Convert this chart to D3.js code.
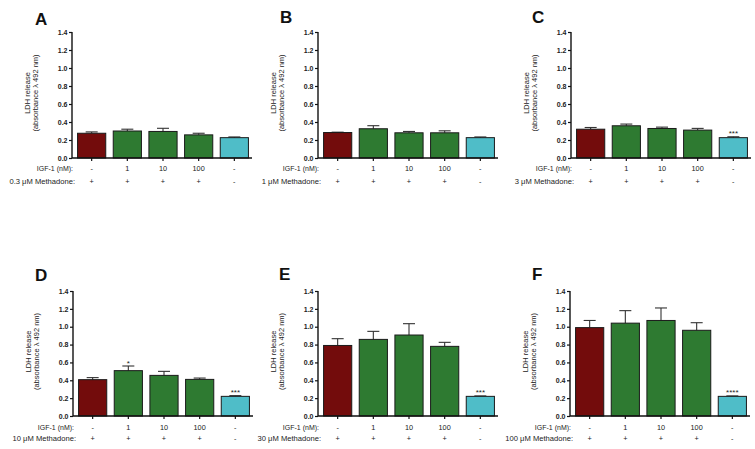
<!DOCTYPE html>
<html>
<head>
<meta charset="utf-8">
<script src="https://cdn.jsdelivr.net/npm/d3@7"></script>
<style>
  html, body { margin: 0; padding: 0; background: #fff; }
  svg { display: block; }
  text { font-family: "Liberation Sans", Arial, sans-serif; }
</style>
</head>
<body>
<script>
// ---------------- data ----------------
const panelLetters = ["A", "B", "C", "D", "E", "F"];
const methadoneLabels = ["0.3 μM Methadone:", "1 μM Methadone:", "3 μM Methadone:",
                         "10 μM Methadone:", "30 μM Methadone:", "100 μM Methadone:"];
const groups = ["g1", "g2", "g3", "g4", "g5"];
const igfLabels = ["-", "1", "10", "100", "-"];
const methadoneSigns = ["+", "+", "+", "+", "-"];
const yTicks = [0, 0.2, 0.4, 0.6, 0.8, 1.0, 1.2, 1.4];

const meanA = [0.275, 0.300, 0.295, 0.257, 0.226];
const semA  = [0.015, 0.020, 0.035, 0.018, 0.008];
const meanB = [0.283, 0.325, 0.280, 0.280, 0.226];
const semB  = [0.004, 0.034, 0.015, 0.022, 0.008];
const meanC = [0.320, 0.358, 0.328, 0.310, 0.226];
const semC  = [0.019, 0.019, 0.015, 0.019, 0.010];
const meanD = [0.407, 0.508, 0.455, 0.410, 0.220];
const semD  = [0.023, 0.052, 0.045, 0.015, 0.008];
const meanE = [0.790, 0.858, 0.907, 0.780, 0.220];
const semE  = [0.076, 0.090, 0.127, 0.045, 0.005];
const meanF = [0.990, 1.040, 1.070, 0.960, 0.220];
const semF  = [0.080, 0.140, 0.140, 0.085, 0.005];

const sigA = ["", "", "", "", ""];
const sigB = ["", "", "", "", ""];
const sigC = ["", "", "", "", "***"];
const sigD = ["", "*", "", "", "***"];
const sigE = ["", "", "", "", "***"];
const sigF = ["", "", "", "", "****"];

const means = [meanA, meanB, meanC, meanD, meanE, meanF];
const sems  = [semA, semB, semC, semD, semE, semF];
const sigs  = [sigA, sigB, sigC, sigD, sigE, sigF];

// ---------------- layout ----------------
const W = 755, H = 449;
const axisX = [72, 318, 571, 73, 318, 570];
const axisY0 = [158, 158, 158, 416, 416, 416];
const axisYTop = [32, 32, 32, 291, 291, 291];
const letterPos = [[35, 25], [280, 23], [532, 23], [35, 281], [279, 280], [532, 280]];
const rowOff = [[10, 23], [10, 23], [10, 23], [11, 22.5], [11, 22.5], [11, 22.5]];
const barColors = ["#730c0c", "#2e7a31", "#2e7a31", "#2e7a31", "#4fbdc8"];

const svg = d3.select("body").append("svg")
  .attr("width", W).attr("height", H);

panelLetters.forEach((letter, p) => {
  const ax = axisX[p], y0 = axisY0[p], yt = axisYTop[p];
  const g = svg.append("g");

  const y = d3.scaleLinear().domain([0, 1.4]).range([y0, yt]);
  const x = d3.scaleBand().domain(groups).range([ax + 2, ax + 180]).paddingInner(0.21).paddingOuter(0.1);

  // panel letter
  g.append("text").attr("x", letterPos[p][0]).attr("y", letterPos[p][1])
    .attr("font-size", 17).attr("font-weight", "bold").attr("fill", "#111")
    .text(letter);

  const data = groups.map((k, i) => ({ k, i, m: means[p][i], e: sems[p][i], s: sigs[p][i] }));

  // error bars (upper only)
  const eb = g.append("g").attr("stroke", "#333").attr("stroke-width", 1.1);
  data.forEach(d => {
    const cx = x(d.k) + x.bandwidth() / 2;
    eb.append("line").attr("x1", cx).attr("x2", cx)
      .attr("y1", y(d.m)).attr("y2", y(d.m + d.e));
    eb.append("line").attr("x1", cx - 6).attr("x2", cx + 6)
      .attr("y1", y(d.m + d.e)).attr("y2", y(d.m + d.e));
  });

  // bars
  g.append("g").selectAll("rect").data(data).join("rect")
    .attr("x", d => x(d.k))
    .attr("y", d => y(d.m))
    .attr("width", x.bandwidth())
    .attr("height", d => y(0) - y(d.m))
    .attr("fill", d => barColors[d.i])
    .attr("stroke", "#1a1a1a").attr("stroke-width", 1);

  // significance
  g.append("g").selectAll("text").data(data.filter(d => d.s)).join("text")
    .attr("x", d => x(d.k) + x.bandwidth() / 2)
    .attr("y", d => y(d.m + d.e) - 0.5)
    .attr("text-anchor", "middle").attr("font-size", 8).attr("fill", "#222")
    .text(d => d.s);

  // y axis
  const yAxis = d3.axisLeft(y).tickValues(yTicks).tickFormat(d3.format(".1f"))
    .tickSize(3).tickPadding(1.5);
  const ya = g.append("g").attr("transform", `translate(${ax},0)`).call(yAxis);
  ya.select(".domain").attr("stroke", "#111").attr("stroke-width", 1.4)
    .attr("d", `M0,${y(1.4)}V${y(0)}`);
  ya.selectAll(".tick line").attr("stroke", "#111").attr("stroke-width", 1.2);
  ya.selectAll(".tick text").attr("font-size", 7).attr("font-weight", "bold")
    .attr("fill", "#222").attr("font-family", "Liberation Sans, Arial, sans-serif");

  // x axis
  const xAxis = d3.axisBottom(x).tickSize(3).tickFormat("");
  const xa = g.append("g").attr("transform", `translate(0,${y0})`).call(xAxis);
  xa.select(".domain").attr("stroke", "#111").attr("stroke-width", 1.4)
    .attr("d", `M${ax},0H${ax + 180}`);
  xa.selectAll(".tick line").attr("stroke", "#111").attr("stroke-width", 1.2);

  // y title
  const yc = (y0 + yt) / 2 - 2;
  g.append("text")
    .attr("transform", `translate(${ax - 42},${yc}) rotate(-90)`)
    .attr("text-anchor", "middle").attr("font-size", 7.5).attr("fill", "#222")
    .text("LDH release");
  g.append("text")
    .attr("transform", `translate(${ax - 34.5},${yc}) rotate(-90)`)
    .attr("text-anchor", "middle").attr("font-size", 7.5).attr("fill", "#222")
    .text("(absorbance λ 492 nm)");

  // row labels
  const r1 = y0 + rowOff[p][0] + 2.5, r2 = y0 + rowOff[p][1] + 2.5;
  g.append("text").attr("x", ax + 1).attr("y", r1).attr("text-anchor", "end")
    .attr("font-size", 7).attr("fill", "#222").text("IGF-1 (nM):");
  g.append("text").attr("x", ax + 3).attr("y", r2).attr("text-anchor", "end")
    .attr("font-size", 7.6).attr("fill", "#222").text(methadoneLabels[p]);
  g.append("g").selectAll("text").data(data).join("text")
    .attr("x", d => x(d.k) + x.bandwidth() / 2).attr("y", r1)
    .attr("text-anchor", "middle").attr("font-size", 7.3).attr("fill", "#222")
    .text(d => igfLabels[d.i]);
  g.append("g").selectAll("text").data(data).join("text")
    .attr("x", d => x(d.k) + x.bandwidth() / 2).attr("y", r2)
    .attr("text-anchor", "middle").attr("font-size", 7.3).attr("fill", "#222")
    .text(d => methadoneSigns[d.i]);
});
</script>
</body>
</html>
